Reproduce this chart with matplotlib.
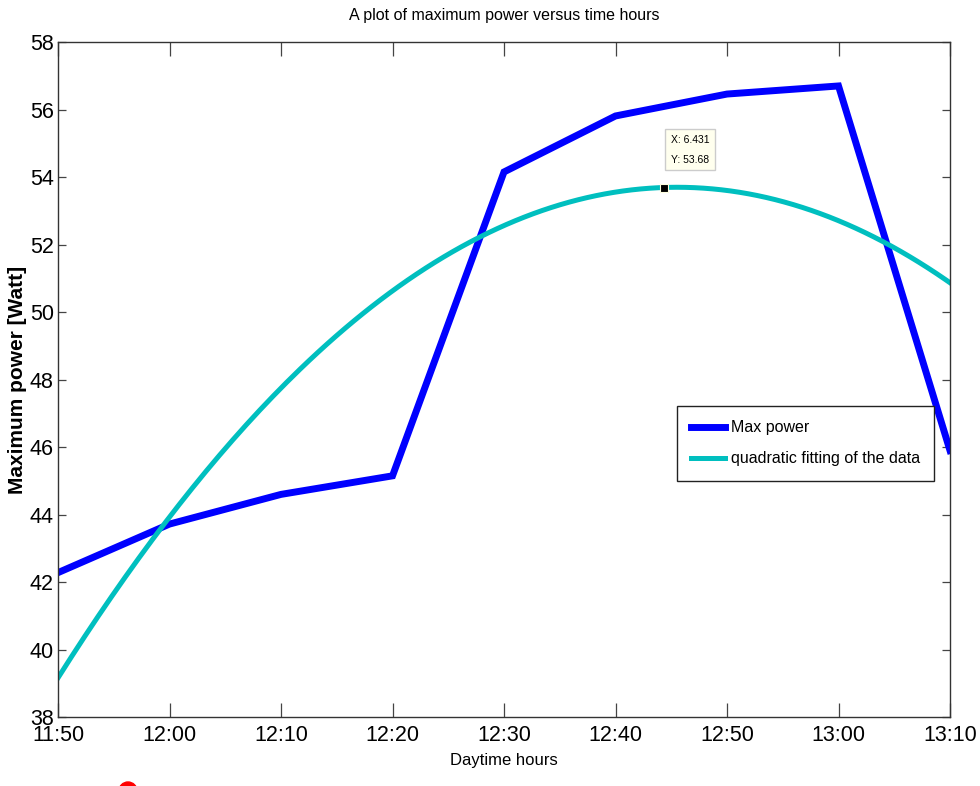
import numpy as np
import matplotlib
matplotlib.use("Agg")
import matplotlib.pyplot as plt
from matplotlib.patches import Circle

# data
time_idx = [1, 2, 3, 4, 5, 6, 7, 8, 9]
time_labels = ["11:50", "12:00", "12:10", "12:20", "12:30", "12:40", "12:50", "13:00", "13:10"]
max_power = [42.28, 43.72, 44.6, 45.15, 54.16, 55.82, 56.47, 56.71, 45.9]
tip_x, tip_y = 6.431, 53.68
y_ticks = [38, 40, 42, 44, 46, 48, 50, 52, 54, 56, 58]

plt.rcParams["font.family"] = ["Liberation Sans", "DejaVu Sans"]

# quadratic fit of the measured values (the chart's second series)
coef = np.polyfit(time_idx, max_power, 2)
xs = np.linspace(time_idx[0], time_idx[-1], 200)
fit = np.polyval(coef, xs)

fig = plt.figure(figsize=(9.8, 7.86), dpi=100)
ax = fig.add_axes([0.0592, 0.0878, 0.9102, 0.8582])

ax.plot(time_idx, max_power, color="#0000FF", lw=5, label="Max power",
        solid_joinstyle="miter")
ax.plot(xs, fit, color="#00BFBF", lw=3.6, label="quadratic fitting of the data")

# data cursor
ax.plot([tip_x], [tip_y], marker="s", ms=6, color="black", mec="#FFFFE0", mew=0.8, zorder=5)
ax.annotate(f"X: {tip_x:.3f}\nY: {tip_y:.2f}", xy=(tip_x, tip_y), xytext=(5, 17),
            textcoords="offset points", fontsize=7.5, linespacing=2.2, ha="left", va="bottom",
            bbox=dict(boxstyle="square,pad=0.55", fc="#FFFFEE", ec="#CCCCCC", lw=1))

ax.set_xlim(1, 9)
ax.set_ylim(38, 58)
ax.set_xticks(time_idx)
ax.set_xticklabels(time_labels)
ax.set_yticks(y_ticks)
ax.tick_params(axis="x", direction="in", length=10, width=0.9, labelsize=15.5, pad=6,
               top=True, color="#444444")
ax.tick_params(axis="y", direction="in", length=6, width=0.9, labelsize=15.5, pad=3,
               right=True, color="#444444")
for s in ax.spines.values():
    s.set_color("#333333")
    s.set_linewidth(1.0)

ax.set_title("A plot of maximum power versus time hours", fontsize=11.5, pad=16)
ax.set_xlabel("Daytime hours", fontsize=12, labelpad=5)
ax.set_ylabel("Maximum power [Watt]", fontsize=15, fontweight="bold", labelpad=2)

leg = ax.legend(loc="upper left", bbox_to_anchor=(0.694, 0.461), fontsize=11.5,
                fancybox=False, framealpha=1, edgecolor="#222222", handlelength=2.1,
                borderpad=0.9, labelspacing=1.0, handletextpad=0.35, borderaxespad=0)
leg.get_frame().set_linewidth(1.0)

# stray red mark at the bottom edge of the image
fig.patches.append(Circle((128, -5), 9, transform=None, color="red"))

fig.savefig("out.png", dpi=100)
